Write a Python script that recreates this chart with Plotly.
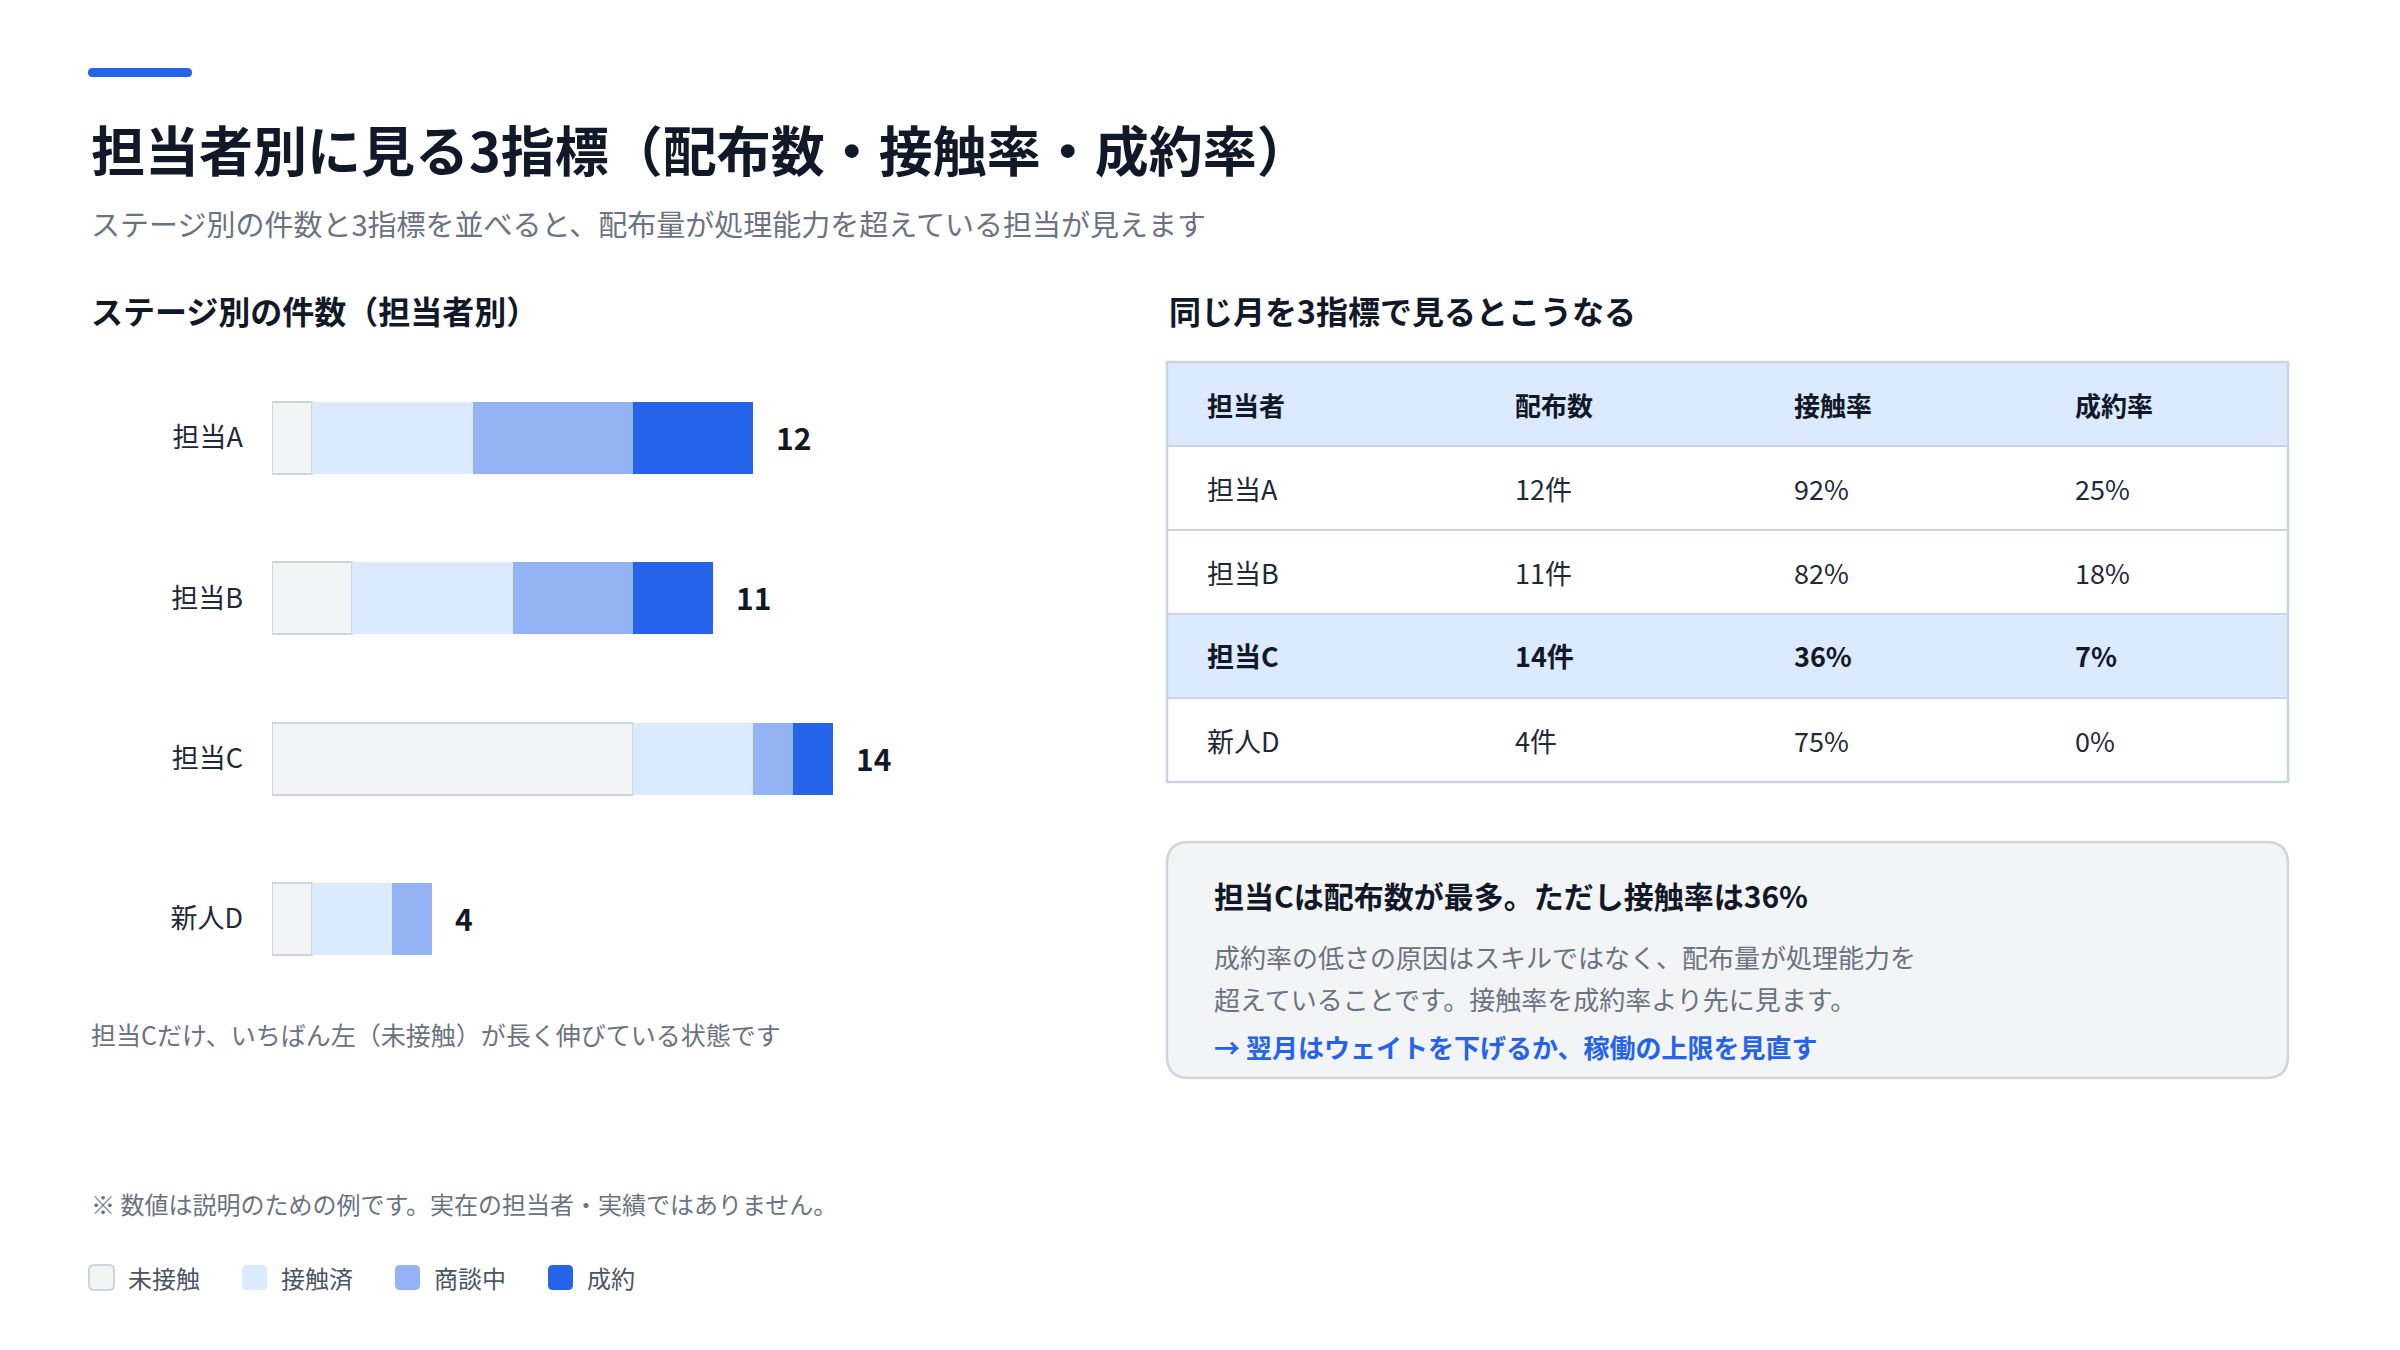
import plotly.graph_objects as go

W, H = 2400, 1350
FONT = "Noto Sans CJK JP"

# data
NAMES = ["担当A", "担当B", "担当C", "新人D"]
STAGES = ["未接触", "接触済", "商談中", "成約"]
UNCONTACTED = [1, 2, 9, 1]
CONTACTED = [4, 4, 3, 2]
NEGOTIATING = [4, 3, 1, 1]
WON = [3, 2, 1, 0]
TOTALS = [12, 11, 14, 4]

TABLE_HEADER = ["担当者", "配布数", "接触率", "成約率"]
DISTRIBUTED = [12, 11, 14, 4]
CONTACT_RATE = [92, 82, 36, 75]
CLOSE_RATE = [25, 18, 7, 0]
HIGHLIGHT = "担当C"

STAGE_COLORS = ["#F3F4F6", "#DBEAFE", "#93B3F5", "#2563EB"]
DARK = "#111827"
GRAY = "#6B7280"
BLUE = "#2563EB"


def X(v):
    return v / W


def Y(v):
    return 1 - v / H


def rrect(x0, y0, x1, y1, r):
    return (f"M{X(x0 + r)},{Y(y0)} L{X(x1 - r)},{Y(y0)} Q{X(x1)},{Y(y0)} {X(x1)},{Y(y0 + r)} "
            f"L{X(x1)},{Y(y1 - r)} Q{X(x1)},{Y(y1)} {X(x1 - r)},{Y(y1)} "
            f"L{X(x0 + r)},{Y(y1)} Q{X(x0)},{Y(y1)} {X(x0)},{Y(y1 - r)} "
            f"L{X(x0)},{Y(y0 + r)} Q{X(x0)},{Y(y0)} {X(x0 + r)},{Y(y0)} Z")


def text(x, y, s, size, color=DARK, bold=False, anchor="left"):
    return dict(x=X(x), y=Y(y), xref="paper", yref="paper", text=s, showarrow=False,
                xanchor=anchor, yanchor="middle",
                font=dict(family=FONT, size=size, color=color, weight=700 if bold else 400))


fig = go.Figure()

# stacked bars
stage_values = [UNCONTACTED, CONTACTED, NEGOTIATING, WON]
for i, (stage, vals) in enumerate(zip(STAGES, stage_values)):
    fig.add_trace(go.Bar(
        y=NAMES, x=vals, name=stage, orientation="h", width=0.449,
        marker=dict(color=STAGE_COLORS[i],
                    line=dict(color="#D1D5DB" if i == 0 else STAGE_COLORS[i], width=2 if i == 0 else 0)),
        showlegend=False, hoverinfo="skip",
    ))

unit = 40.1
x_left, x_right = 272, 1100
row_h = 160.3
y_top = 438 - row_h / 2
y_bot = 919 + row_h / 2

fig.update_layout(
    barmode="stack",
    width=W, height=H,
    margin=dict(l=0, r=0, t=0, b=0),
    paper_bgcolor="white", plot_bgcolor="white",
    xaxis=dict(domain=[X(x_left), X(x_right)], range=[0, (x_right - x_left) / unit],
               visible=False, fixedrange=True),
    yaxis=dict(domain=[Y(y_bot), Y(y_top)], categoryorder="array", categoryarray=NAMES,
               range=[3.5, -0.5], showgrid=False, zeroline=False, showline=False,
               ticks="", ticklabelstandoff=28,
               tickfont=dict(family=FONT, size=27, color="#1F2937")),
    font=dict(family=FONT),
)

ann = []
shapes = []

# totals next to bars
for name, tot in zip(NAMES, TOTALS):
    ann.append(dict(x=tot, y=name, xref="x", yref="y", text=str(tot), showarrow=False,
                    xanchor="left", yanchor="middle", xshift=21, yshift=1,
                    font=dict(family=FONT, size=30, color=DARK, weight=700)))

# header block
shapes.append(dict(type="path", path=rrect(88, 68, 192, 77, 4.5), xref="paper", yref="paper",
                   fillcolor=BLUE, line=dict(width=0)))
ann.append(text(89, 148, "担当者別に見る3指標（配布数・接触率・成約率）", 54, bold=True))
ann.append(text(89, 223, "ステージ別の件数と3指標を並べると、配布量が処理能力を超えている担当が見えます", 29, GRAY))
ann.append(text(89, 310, "ステージ別の件数（担当者別）", 32, bold=True))
ann.append(text(1167, 310, "同じ月を3指標で見るとこうなる", 32, bold=True))
ann.append(text(89, 1034, "担当Cだけ、いちばん左（未接触）が長く伸びている状態です", 25, GRAY))
ann.append(text(89, 1203, "※ 数値は説明のための例です。実在の担当者・実績ではありません。", 24, GRAY))

# table
tx0, tx1 = 1167, 2288
ty0, rh = 362, 84
col_x = [1205, 1513, 1792, 2073]
rows = [[n, f"{d}件", f"{c}%", f"{k}%"] for n, d, c, k in zip(NAMES, DISTRIBUTED, CONTACT_RATE, CLOSE_RATE)]

shapes.append(dict(type="rect", xref="paper", yref="paper", x0=X(tx0), x1=X(tx1),
                   y0=Y(ty0 + rh), y1=Y(ty0), fillcolor="#DBEAFE", line=dict(width=0), layer="below"))
for r, row in enumerate(rows):
    yc = ty0 + rh * (r + 1.5)
    hl = row[0] == HIGHLIGHT
    if hl:
        shapes.append(dict(type="rect", xref="paper", yref="paper", x0=X(tx0), x1=X(tx1),
                           y0=Y(ty0 + rh * (r + 2)), y1=Y(ty0 + rh * (r + 1)),
                           fillcolor="#DBEAFE", line=dict(width=0), layer="below"))
    for c, val in enumerate(row):
        ann.append(text(col_x[c], yc, val, 27, "#1F2937" if not hl else DARK, bold=hl))
    shapes.append(dict(type="line", xref="paper", yref="paper", x0=X(tx0), x1=X(tx1),
                       y0=Y(ty0 + rh * (r + 1)), y1=Y(ty0 + rh * (r + 1)),
                       line=dict(color="#CBD5E1", width=2)))
for c, h in enumerate(TABLE_HEADER):
    ann.append(text(col_x[c], ty0 + rh / 2, h, 26, DARK, bold=True))
shapes.append(dict(type="rect", xref="paper", yref="paper", x0=X(tx0), x1=X(tx1),
                   y0=Y(ty0 + rh * 5), y1=Y(ty0), line=dict(color="#CBD5E1", width=2.5)))

# callout box
shapes.append(dict(type="path", path=rrect(1167, 842, 2288, 1078, 22), xref="paper", yref="paper",
                   fillcolor="#F3F4F6", line=dict(color="#D1D5DB", width=2.5), layer="below"))
ann.append(text(1212, 895, "担当Cは配布数が最多。ただし接触率は36%", 30, bold=True))
ann.append(text(1212, 956, "成約率の低さの原因はスキルではなく、配布量が処理能力を", 26, GRAY))
ann.append(text(1212, 998, "超えていることです。接触率を成約率より先に見ます。", 26, GRAY))
ann.append(text(1212, 1046, "→ 翌月はウェイトを下げるか、稼働の上限を見直す", 26, BLUE, bold=True))

# legend
for i, stage in enumerate(STAGES):
    lx = 89 + i * 153
    shapes.append(dict(type="path", path=rrect(lx, 1265, lx + 25, 1290, 5), xref="paper", yref="paper",
                       fillcolor=STAGE_COLORS[i],
                       line=dict(color="#D1D5DB" if i == 0 else STAGE_COLORS[i], width=2 if i == 0 else 0)))
    ann.append(text(lx + 37, 1277, stage, 24, "#4B5563"))

fig.update_layout(annotations=ann, shapes=shapes)
fig.write_html("out.html", config={"displayModeBar": False},
               post_script="document.body.style.margin='0px';")
